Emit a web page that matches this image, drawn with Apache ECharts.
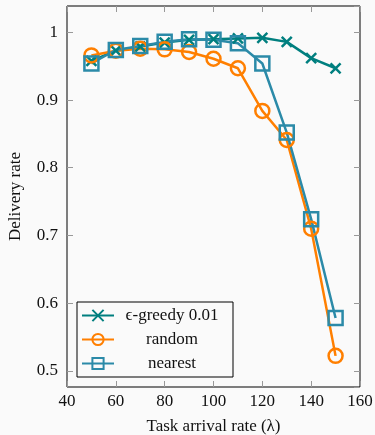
<!DOCTYPE html>
<html>
<head>
<meta charset="utf-8">
<script src="https://cdn.jsdelivr.net/npm/echarts@6/dist/echarts.min.js"></script>
<style>
  html, body { margin: 0; padding: 0; background: #fafafa; }
  #chart { width: 375px; height: 435px; }
</style>
</head>
<body>
<div id="chart"></div>
<script>
// task arrival rate (lambda)
const rates = [50, 60, 70, 80, 90, 100, 110, 120, 130, 140, 150];
const greedy = [0.958, 0.973, 0.979, 0.985, 0.989, 0.990, 0.991, 0.992, 0.986, 0.962, 0.947];
const random = [0.966, 0.973, 0.976, 0.975, 0.971, 0.961, 0.947, 0.884, 0.841, 0.710, 0.522];
const nearest = [0.954, 0.974, 0.980, 0.986, 0.990, 0.989, 0.984, 0.954, 0.852, 0.724, 0.578];
const seriesNames = ['\u03f5-greedy 0.01', 'random', 'nearest'];

const FONT = '"Liberation Serif", "DejaVu Serif", serif';
const crossPath = 'path://M0,0L10,10M10,0L0,10';

const chart = echarts.init(document.getElementById('chart'));

const pairs = (ys) => rates.map((x, i) => [x, ys[i]]);

// 刻度向内，四边都有
const tickStyle = { show: true, inside: true, length: 6, lineStyle: { color: '#999', width: 1 } };

function makeSeries(name, ys, color, symbol, size) {
  return {
    name: name,
    type: 'line',
    data: pairs(ys),
    symbol: symbol,
    symbolSize: size,
    showAllSymbol: true,
    lineStyle: { color: color, width: 2.5 },
    itemStyle: { color: 'transparent', borderColor: color, borderWidth: 2.5 },
    emphasis: { disabled: true },
    z: 3
  };
}

chart.setOption({
  backgroundColor: '#fafafa',
  animation: false,
  textStyle: { fontFamily: FONT },
  grid: {
    left: 67, right: 15, top: 6, bottom: 48, outerBoundsMode: 'none',
    show: true, borderColor: '#000', borderWidth: 1, backgroundColor: 'transparent'
  },
  xAxis: [{
    type: 'value', min: 40, max: 160, interval: 20,
    name: 'Task arrival rate (\u03bb)', nameLocation: 'middle', nameGap: 31,
    nameTextStyle: { fontFamily: FONT, fontSize: 17, color: '#111' },
    axisLine: { show: false },
    axisTick: tickStyle,
    splitLine: { show: false },
    axisLabel: { fontFamily: FONT, fontSize: 17, color: '#111', margin: 6 }
  }, {
    type: 'value', min: 40, max: 160, interval: 20, position: 'top',
    axisLine: { show: false }, axisTick: tickStyle,
    splitLine: { show: false }, axisLabel: { show: false }
  }],
  yAxis: [{
    type: 'value', min: 0.476, max: 1.039, splitNumber: 5,
    name: 'Delivery rate', nameLocation: 'middle', nameGap: 43, nameRotate: 90,
    nameTextStyle: { fontFamily: FONT, fontSize: 17, color: '#111' },
    axisLine: { show: false },
    axisTick: tickStyle,
    splitLine: { show: false },
    axisLabel: {
      fontFamily: FONT, fontSize: 17, color: '#111', margin: 9,
      showMinLabel: false, showMaxLabel: false,
      formatter: (v) => (Math.abs(v * 10 - Math.round(v * 10)) < 1e-6 ? String(+v.toFixed(1)) : '')
    }
  }, {
    type: 'value', min: 0.476, max: 1.039, splitNumber: 5, position: 'right',
    axisLine: { show: false }, axisTick: tickStyle,
    splitLine: { show: false }, axisLabel: { show: false }
  }],
  legend: {
    orient: 'vertical', left: 77, top: 302,
    padding: [5, 8, 5, 4], itemGap: 7, itemWidth: 32, itemHeight: 14,
    borderColor: '#000', borderWidth: 1, backgroundColor: '#fafafa',
    data: seriesNames,
    formatter: (n) => '{t|' + n + '}',
    textStyle: {
      rich: { t: { fontFamily: FONT, fontSize: 17, lineHeight: 16, color: '#111', width: 106, align: 'center' } }
    }
  },
  series: [
    makeSeries(seriesNames[0], greedy, '#007f7f', crossPath, 10),
    makeSeries(seriesNames[1], random, '#ff7f00', 'circle', 14),
    makeSeries(seriesNames[2], nearest, '#2b8aa8', 'rect', 14)
  ]
});
</script>
</body>
</html>
